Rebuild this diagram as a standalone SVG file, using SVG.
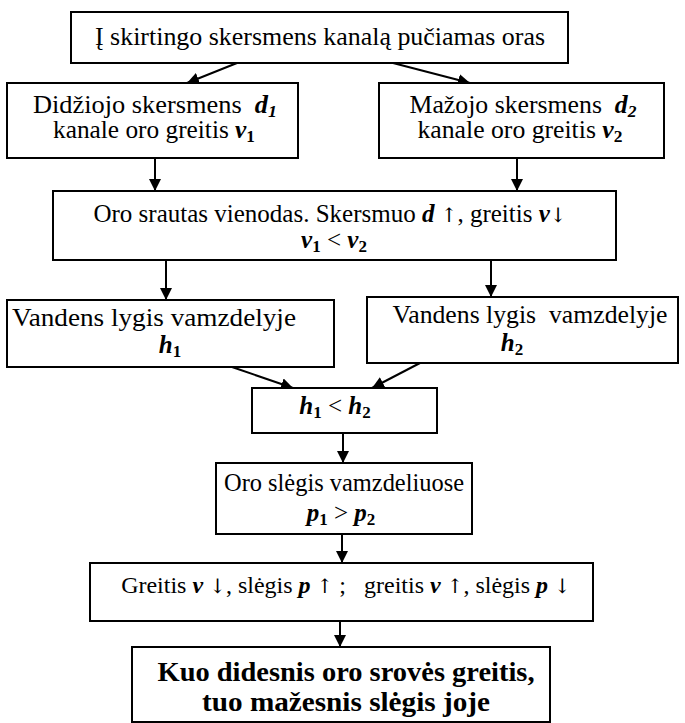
<svg xmlns="http://www.w3.org/2000/svg" width="685" height="723" viewBox="0 0 685 723">
<style>
.box{fill:#fff;stroke:#000;stroke-width:2}
.t{font-family:"Liberation Serif","Times New Roman",serif;font-size:25px;fill:#000;text-anchor:middle}
.s{text-anchor:start}
.bi{font-weight:bold;font-style:italic}
.b{font-weight:bold}
.sub{font-size:17px}
.ar{font-family:"DejaVu Serif",serif;font-size:20px}
.big{font-size:27px;font-weight:bold}
.con{stroke:#000;stroke-width:2;fill:none;marker-end:url(#ah)}
</style>
<defs>
<marker id="ah" markerUnits="userSpaceOnUse" markerWidth="12" markerHeight="12" viewBox="0 0 12 12" refX="12" refY="6" orient="auto">
<path d="M0,0 L12,6 L0,12 z" fill="#000"/>
</marker>
</defs>
<rect width="685" height="723" fill="#fff"/>
<g id="connectors">
<line class="con" x1="237" y1="63" x2="187" y2="83"/>
<line class="con" x1="393" y1="63" x2="470" y2="83"/>
<line class="con" x1="155" y1="158" x2="155" y2="191"/>
<line class="con" x1="517" y1="158" x2="517" y2="191"/>
<line class="con" x1="166" y1="260" x2="166" y2="300"/>
<line class="con" x1="491" y1="260" x2="491" y2="297"/>
<line class="con" x1="232" y1="367" x2="293" y2="388"/>
<line class="con" x1="420" y1="363" x2="372" y2="388"/>
<line class="con" x1="343" y1="433" x2="343" y2="463"/>
<line class="con" x1="342" y1="534" x2="342" y2="563"/>
<line class="con" x1="340" y1="621" x2="340" y2="647"/>
</g>
<g id="n1">
<rect class="box" x="71" y="12" width="497" height="51"/>
<text class="t" x="320" y="45" textLength="450" lengthAdjust="spacingAndGlyphs">Į skirtingo skersmens kanalą pučiamas oras</text>
</g>
<g id="n2">
<rect class="box" x="7" y="83" width="291" height="75"/>
<text class="t" x="155" y="113" textLength="244" lengthAdjust="spacingAndGlyphs" xml:space="preserve">Didžiojo skersmens  <tspan class="bi">d</tspan><tspan class="bi sub" dy="4">1</tspan></text>
<text class="t" x="154" y="138" textLength="202" lengthAdjust="spacingAndGlyphs">kanale oro greitis <tspan class="bi">v</tspan><tspan class="b sub" dy="4">1</tspan></text>
</g>
<g id="n3">
<rect class="box" x="379" y="83" width="285" height="75"/>
<text class="t" x="523" y="113" textLength="227" lengthAdjust="spacingAndGlyphs" xml:space="preserve">Mažojo skersmens  <tspan class="bi">d</tspan><tspan class="bi sub" dy="4">2</tspan></text>
<text class="t" x="520" y="138" textLength="205" lengthAdjust="spacingAndGlyphs">kanale oro greitis <tspan class="bi">v</tspan><tspan class="b sub" dy="4">2</tspan></text>
</g>
<g id="n4">
<rect class="box" x="53" y="191" width="563" height="69"/>
<text class="t" x="330" y="222">Oro srautas vienodas. Skersmuo <tspan class="bi">d</tspan> <tspan class="ar">↑</tspan>, greitis <tspan class="bi">v</tspan><tspan class="ar">↓</tspan></text>
<text class="t" x="334" y="248"><tspan class="bi">v</tspan><tspan class="b sub" dy="4">1</tspan><tspan dy="-4"> &lt; </tspan><tspan class="bi">v</tspan><tspan class="b sub" dy="4">2</tspan></text>
</g>
<g id="n5">
<rect class="box" x="7" y="300" width="327" height="67"/>
<text class="t s" x="12" y="326" textLength="284" lengthAdjust="spacingAndGlyphs">Vandens lygis vamzdelyje</text>
<text class="t" x="170" y="353"><tspan class="bi">h</tspan><tspan class="b sub" dy="4">1</tspan></text>
</g>
<g id="n6">
<rect class="box" x="367" y="297" width="311" height="66"/>
<text class="t" x="530" y="323" textLength="275" lengthAdjust="spacingAndGlyphs" xml:space="preserve">Vandens lygis  vamzdelyje</text>
<text class="t" x="512" y="351"><tspan class="bi">h</tspan><tspan class="b sub" dy="4">2</tspan></text>
</g>
<g id="n7">
<rect class="box" x="252" y="388" width="185" height="45"/>
<text class="t" x="335" y="414"><tspan class="bi">h</tspan><tspan class="b sub" dy="4">1</tspan><tspan dy="-4"> &lt; </tspan><tspan class="bi">h</tspan><tspan class="b sub" dy="4">2</tspan></text>
</g>
<g id="n8">
<rect class="box" x="216" y="463" width="256" height="71"/>
<text class="t" x="344" y="491" textLength="240" lengthAdjust="spacingAndGlyphs">Oro slėgis vamzdeliuose</text>
<text class="t" x="341" y="521"><tspan class="bi">p</tspan><tspan class="b sub" dy="4">1</tspan><tspan dy="-4"> &gt; </tspan><tspan class="bi">p</tspan><tspan class="b sub" dy="4">2</tspan></text>
</g>
<g id="n9">
<rect class="box" x="90" y="563" width="503" height="58"/>
<text class="t" x="346" y="593" style="font-size:24px" xml:space="preserve">Greitis <tspan class="bi">v</tspan> <tspan class="ar">↓</tspan>, slėgis <tspan class="bi">p</tspan> <tspan class="ar">↑</tspan> ;   greitis <tspan class="bi">v</tspan> <tspan class="ar">↑</tspan>, slėgis <tspan class="bi">p</tspan> <tspan class="ar">↓</tspan></text>
</g>
<g id="n10">
<rect class="box" x="132" y="647" width="418" height="75"/>
<text class="t big" x="346" y="681" textLength="377" lengthAdjust="spacingAndGlyphs">Kuo didesnis oro srovės greitis,</text>
<text class="t big" x="346" y="711" textLength="288" lengthAdjust="spacingAndGlyphs">tuo mažesnis slėgis joje</text>
</g>
</svg>
